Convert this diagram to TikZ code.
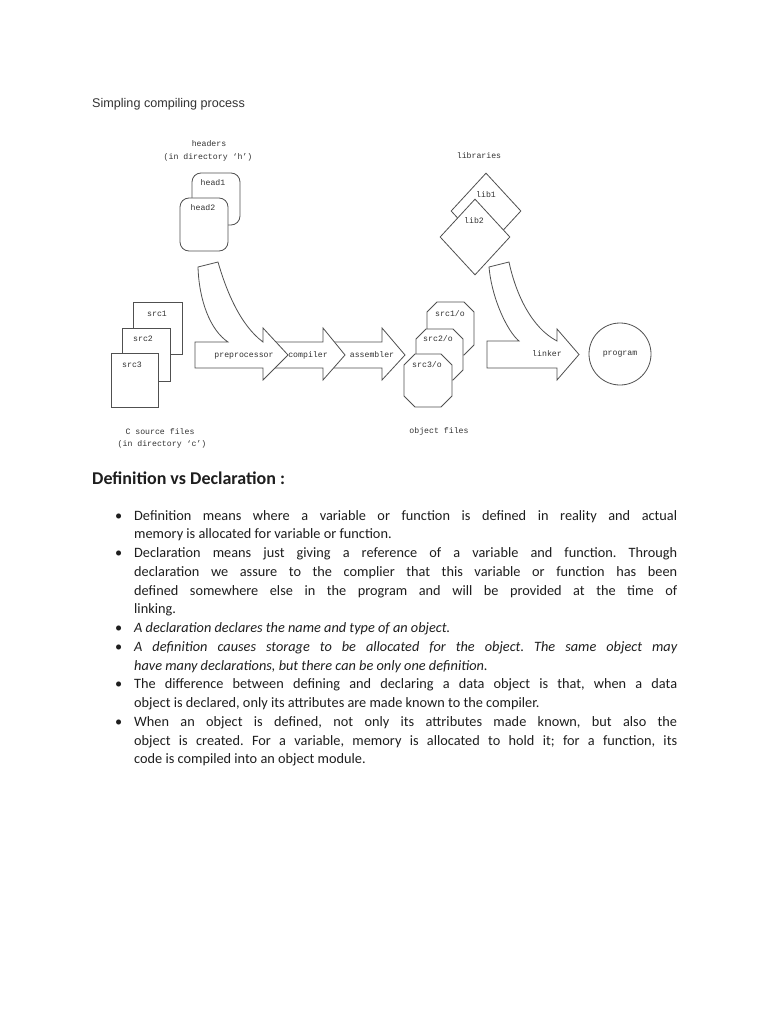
\documentclass[tikz,border=0pt]{standalone}
\usepackage{fontspec}
\setmainfont{Carlito}
\newfontfamily\titlefont{Liberation Sans}
\newfontfamily\diafont{Liberation Mono}
\usetikzlibrary{shapes.geometric}
\definecolor{ink}{HTML}{505050}
\definecolor{dtext}{HTML}{333333}
\definecolor{txt}{HTML}{1E1E1E}
\definecolor{ttl}{HTML}{333333}
\newcommand\fl[1]{\makebox[\linewidth][s]{#1}}
\newcommand\bul{\leavevmode\llap{\textbullet\hspace{12pt}}}
\frenchspacing
\begin{document}
\begin{tikzpicture}[x=1pt,y=-1pt,
  shp/.style={draw=ink, line width=0.8pt, fill=white},
  lbl/.style={font=\diafont\fontsize{8.2}{9}\selectfont, text=dtext, inner sep=0, anchor=base},
  body/.style={anchor=base west, inner sep=0, text=txt, font=\fontsize{14.3}{18.75}\selectfont}]
\useasboundingbox[fill=white] (0,0) rectangle (768,1024);

% title
\node[anchor=base west, inner sep=0, text=ttl, font=\titlefont\fontsize{12.6}{14}\selectfont] (title) at (92,108) {Simpling compiling process};

% headers
\node[lbl] (hdr1) at (209,147) {headers};
\node[lbl] (hdr2) at (208,160) {(in directory ‘h’)};
\node[shp, rounded corners=9pt, minimum width=48pt, minimum height=52pt, inner sep=0] (head1) at (216,199) {};
\node[shp, rounded corners=9pt, minimum width=48pt, minimum height=53pt, inner sep=0] (head2) at (204,224.5) {};
\node[lbl] (h1t) at (213,186) {head1};
\node[lbl] (h2t) at (203,211) {head2};

% libraries
\node[lbl] (libt) at (479,159) {libraries};
\node[shp, diamond, minimum width=70pt, minimum height=76pt, inner sep=0] (lib1) at (486,211) {};
\node[shp, diamond, minimum width=70pt, minimum height=76pt, inner sep=0] (lib2) at (475,237) {};
\node[lbl] (l1t) at (486,198) {lib1};
\node[lbl] (l2t) at (474,224) {lib2};

% source files
\node[shp, minimum width=49pt, minimum height=52pt, inner sep=0] (src1) at (157.5,328) {};
\node[shp, minimum width=48pt, minimum height=53pt, inner sep=0] (src2) at (146,354.5) {};
\node[shp, minimum width=47pt, minimum height=54pt, inner sep=0] (src3) at (134.5,380) {};
\node[lbl] (s1t) at (157,316) {src1};
\node[lbl] (s2t) at (143,341) {src2};
\node[lbl] (s3t) at (132,367) {src3};
\node[lbl] (cs1) at (160,434) {C source files};
\node[lbl] (cs2) at (162,446) {(in directory ‘c’)};

% process arrows (drawn right to left so that earlier ones overlap)
\draw[shp] (330,342) -- (382,342) -- (382,328) -- (405,355) -- (382,380) -- (382,368) -- (330,368) -- cycle;
\draw[shp] (270,342) -- (323,342) -- (323,328) -- (345,355) -- (323,380) -- (323,368) -- (270,368) -- cycle;
\draw[shp] (195,342) -- (228,342) .. controls (210,330) and (199,300) .. (198,267) -- (218,262)
  .. controls (226,290) and (240,325) .. (263,342) -- (263,328) -- (288,355) -- (263,380) -- (263,368) -- (195,368) -- cycle;
\node[lbl] (pp) at (244,357) {preprocessor};
\node[lbl] (cc) at (308,357) {compiler};
\node[lbl] (as) at (372,357) {assembler};

% object files
\draw[shp] (437,302) -- (464,302) -- (474,312) -- (474,345) -- (464,355) -- (437,355) -- (427,345) -- (427,312) -- cycle;
\draw[shp] (426,329) -- (453,329) -- (463,339) -- (463,370) -- (453,380) -- (426,380) -- (416,370) -- (416,339) -- cycle;
\draw[shp] (415,354) -- (441,354) -- (452,365) -- (452,396) -- (441,407) -- (415,407) -- (404,396) -- (404,365) -- cycle;
\node[lbl] (o1t) at (450,316) {src1/o};
\node[lbl] (o2t) at (438,341) {src2/o};
\node[lbl] (o3t) at (427,367) {src3/o};
\node[lbl] (of) at (439,433) {object files};

% linker
\draw[shp] (487,341) -- (519,341) .. controls (508,332) and (492,300) .. (489,267) -- (509,262)
  .. controls (516,295) and (532,328) .. (557,341) -- (557,329) -- (579,354.5) -- (557,380) -- (557,368) -- (487,368) -- cycle;
\node[lbl] (lk) at (547,356) {linker};

% program
\node[shp, circle, minimum size=62pt, inner sep=0] (prog) at (620,354) {};
\node[lbl] (pg) at (620,355) {program};

% text section
\node[anchor=base west, inner sep=0, text=txt, font=\bfseries\fontsize{18}{20}\selectfont] (dvd) at (92,484) {Definition vs Declaration :};

\node[body] (b1) at (134,520) {\parbox[t]{543pt}{\bul\fl{Definition means where a variable or function is defined in reality and actual}\\
memory is allocated for variable or function.}};
\node[body] (b2) at (134,557.5) {\parbox[t]{543pt}{\bul\fl{Declaration means just giving a reference of a variable and function. Through}\\
\fl{declaration we assure to the complier that this variable or function has been}\\
\fl{defined somewhere else in the program and will be provided at the time of}\\
linking.}};
\node[body] (b3) at (134,632.5) {\parbox[t]{543pt}{\bul\textit{A declaration declares the name and type of an object.}}};
\node[body] (b4) at (134,651.25) {\parbox[t]{543pt}{\bul\fl{\itshape A definition causes storage to be allocated for the object. The same object may}\\
\textit{have many declarations, but there can be only one definition.}}};
\node[body] (b5) at (134,688.75) {\parbox[t]{543pt}{\bul\fl{The difference between defining and declaring a data object is that, when a data}\\
object is declared, only its attributes are made known to the compiler.}};
\node[body] (b6) at (134,726.25) {\parbox[t]{543pt}{\bul\fl{When an object is defined, not only its attributes made known, but also the}\\
\fl{object is created. For a variable, memory is allocated to hold it; for a function, its}\\
code is compiled into an object module.}};
\end{tikzpicture}
\end{document}
